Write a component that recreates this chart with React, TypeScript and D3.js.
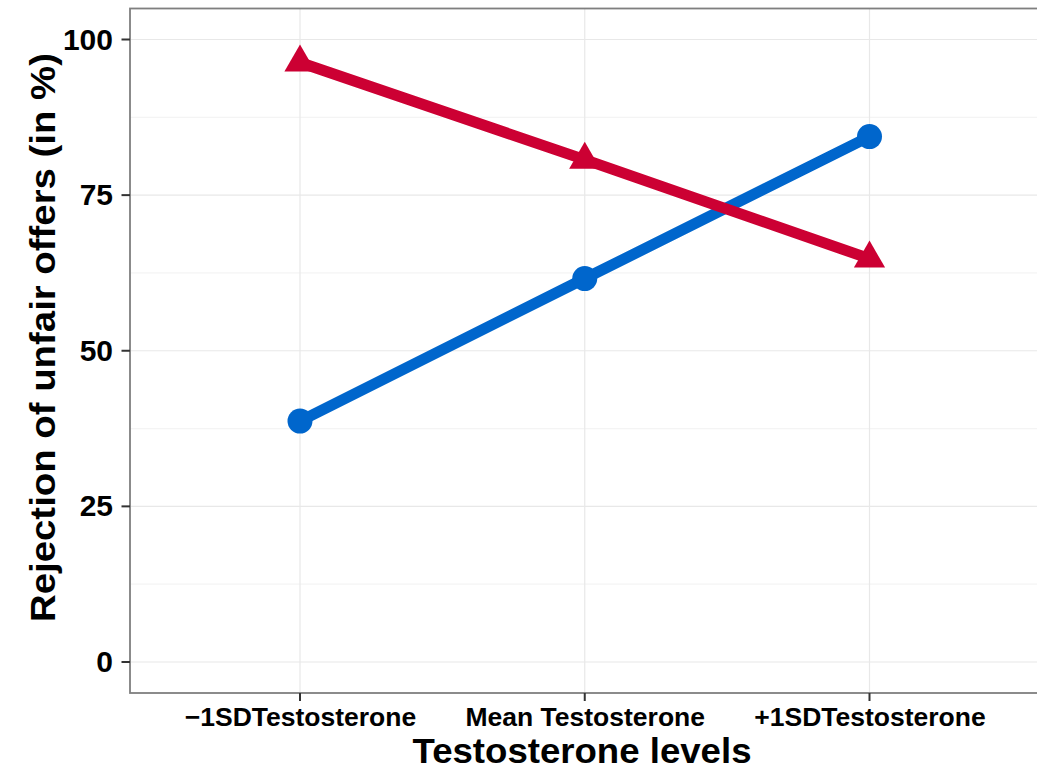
import React from "react";
import * as d3 from "d3";

const categories = ["\u22121SDTestosterone", "Mean Testosterone", "+1SDTestosterone"];
const blueValues = [38.7, 61.6, 84.4];
const redValues = [96.3, 80.7, 64.8];
const yTicks = [0, 25, 50, 75, 100];
const yMinor = [12.5, 37.5, 62.5, 87.5];

const W = 1037;
const H = 771;
const panel = { left: 130, top: 8.5, right: 1040, bottom: 693 };
const BLUE = "#0066CC";
const RED = "#CC0033";
const FONT = "'Liberation Sans', Arial, Helvetica, sans-serif";

export default function App() {
  const x = d3.scalePoint<string>().domain(categories).range([300, 869.5]);
  const y = d3.scaleLinear().domain([0, 100]).range([662, 39.5]);
  const line = d3
    .line<number>()
    .x((_, i) => x(categories[i]) as number)
    .y((d) => y(d));

  const tri = (cx: number, cy: number) => {
    const r = 18;
    const hw = 15.6;
    return `M${cx},${cy - r}L${cx + hw},${cy + r / 2}L${cx - hw},${cy + r / 2}Z`;
  };

  return (
    <div style={{ position: "fixed", left: 0, top: 0 }}>
      <svg width={W} height={H} style={{ display: "block", background: "#fff" }}>
        <defs>
          <clipPath id="pc">
            <rect x={panel.left} y={panel.top} width={panel.right - panel.left} height={panel.bottom - panel.top} />
          </clipPath>
        </defs>
        <g clipPath="url(#pc)">
          {yMinor.map((t) => (
            <line key={"m" + t} x1={panel.left} x2={panel.right} y1={y(t)} y2={y(t)} stroke="#f4f4f4" strokeWidth={1.2} />
          ))}
          {yTicks.map((t) => (
            <line key={"g" + t} x1={panel.left} x2={panel.right} y1={y(t)} y2={y(t)} stroke="#e8e8e8" strokeWidth={1.2} />
          ))}
          {categories.map((c) => (
            <line key={"v" + c} x1={x(c)} x2={x(c)} y1={panel.top} y2={panel.bottom} stroke="#e8e8e8" strokeWidth={1.2} />
          ))}
          <path d={line(blueValues) || ""} fill="none" stroke={BLUE} strokeWidth={11} />
          <path d={line(redValues) || ""} fill="none" stroke={RED} strokeWidth={11} />
          {blueValues.map((v, i) => (
            <circle key={"b" + i} cx={x(categories[i])} cy={y(v)} r={12.5} fill={BLUE} />
          ))}
          {redValues.map((v, i) => (
            <path key={"r" + i} d={tri(x(categories[i]) as number, y(v))} fill={RED} />
          ))}
        </g>
        <rect
          x={panel.left}
          y={panel.top}
          width={panel.right - panel.left}
          height={panel.bottom - panel.top}
          fill="none"
          stroke="#7f7f7f"
          strokeWidth={1.8}
        />
        {yTicks.map((t) => (
          <g key={"yt" + t}>
            <line x1={121.5} x2={panel.left} y1={y(t)} y2={y(t)} stroke="#333" strokeWidth={2} />
            <text
              x={113}
              y={y(t) + 10}
              textAnchor="end"
              fontFamily={FONT}
              fontWeight="bold"
              fontSize={30}
              fill="#000"
            >
              {t}
            </text>
          </g>
        ))}
        {categories.map((c) => (
          <g key={"xt" + c}>
            <line x1={x(c)} x2={x(c)} y1={panel.bottom} y2={701} stroke="#333" strokeWidth={2} />
            <text
              x={(x(c) as number) + 0.5}
              y={726}
              textAnchor="middle"
              fontFamily={FONT}
              fontWeight="bold"
              fontSize={26.5}
              fill="#000"
            >
              {c}
            </text>
          </g>
        ))}
        <text
          x={582}
          y={763}
          textAnchor="middle"
          fontFamily={FONT}
          fontWeight="bold"
          fontSize={35}
          textLength={339}
          lengthAdjust="spacingAndGlyphs"
          fill="#000"
        >
          Testosterone levels
        </text>
        <text
          transform={`translate(55,337.5) rotate(-90)`}
          textAnchor="middle"
          fontFamily={FONT}
          fontWeight="bold"
          fontSize={35}
          textLength={569}
          lengthAdjust="spacingAndGlyphs"
          fill="#000"
        >
          Rejection of unfair offers (in %)
        </text>
      </svg>
    </div>
  );
}
